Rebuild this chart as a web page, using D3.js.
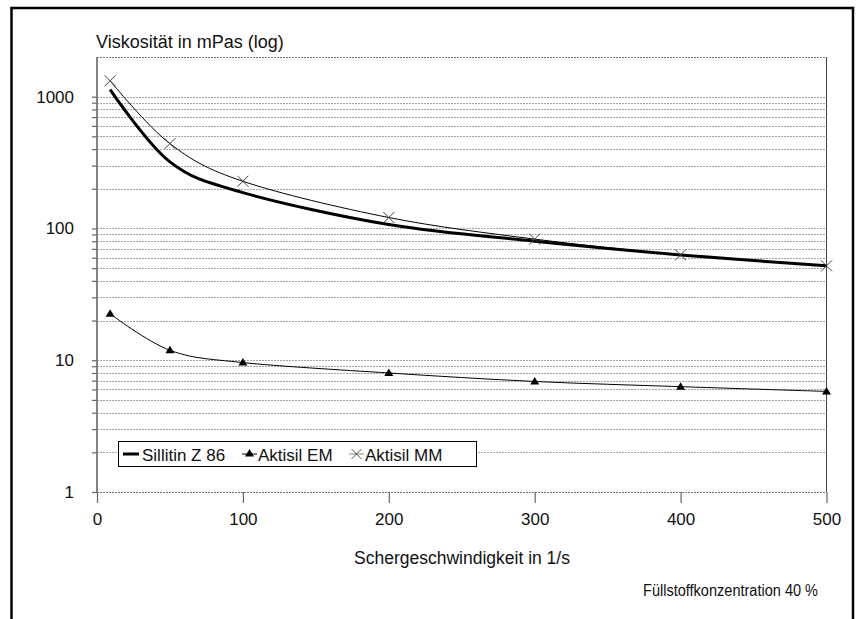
<!DOCTYPE html>
<html>
<head>
<meta charset="utf-8">
<script src="https://cdn.jsdelivr.net/npm/d3@7"></script>
<style>
  body { margin: 0; background: #fff; }
  svg { display: block; }
  text { font-family: "Liberation Sans", Arial, sans-serif; fill: #111; }
</style>
</head>
<body>
<script>
// shear rate (1/s) and viscosity (mPas)
var shearRates = [9, 50, 100, 200, 300, 400, 500];
var sillitin   = [1130, 320, 187, 107, 80, 63, 52];
var aktisilEM  = [22.5, 11.9, 9.6, 8.0, 6.9, 6.3, 5.8];
var aktisilMM  = [1320, 440, 228, 121, 83, 63, 52];

var xTicks = [0, 100, 200, 300, 400, 500];
var yLabels = [1, 10, 100, 1000];
var seriesNames = ["Sillitin Z 86", "Aktisil EM", "Aktisil MM"];

var svgWidth = 860, svgHeight = 619;
var plotLeft = 97, plotRight = 826.5, plotTop = 57, plotBottom = 492;

var svg = d3.select("body")
            .append("svg")
            .attr("width", svgWidth)
            .attr("height", svgHeight);

var x = d3.scaleLinear().domain([0, 500]).range([plotLeft, plotRight]);
var y = d3.scaleLog().domain([1, 2000]).range([plotBottom, plotTop]);

// grid values 1..9 per decade up to 2000
var gridVals = [];
[1, 10, 100, 1000].forEach(function(d) {
  d3.range(1, 10).forEach(function(m) {
    if (d * m <= 2000) gridVals.push(d * m);
  });
});
gridVals.push(2000);

// outer frame (open at the bottom)
svg.append("path")
   .attr("d", "M11.5,625V8H853V625")
   .attr("fill", "none")
   .attr("stroke", "#000")
   .attr("stroke-width", 2.5);

// horizontal gridlines
svg.append("g")
   .selectAll("line")
   .data(gridVals)
   .enter()
   .append("line")
   .attr("x1", plotLeft)
   .attr("x2", plotRight)
   .attr("y1", (d)=> Math.round(y(d)) + 0.5)
   .attr("y2", (d)=> Math.round(y(d)) + 0.5)
   .attr("stroke", (d)=> (d === 1 || d === 2000) ? "#777" : "#a4a4a4")
   .attr("stroke-dasharray", "2,1")
   .attr("stroke-width", 1);

// right border of plot area
svg.append("line")
   .attr("x1", plotRight).attr("x2", plotRight)
   .attr("y1", plotTop).attr("y2", plotBottom)
   .attr("stroke", "#444")
   .attr("stroke-width", 1);

// y axis
var yAxis = d3.axisLeft(y)
              .tickValues(gridVals.filter((d)=> d < 2000))
              .tickSize(5)
              .tickPadding(18)
              .tickFormat((d)=> yLabels.indexOf(d) >= 0 ? d : "");

var gy = svg.append("g")
   .attr("transform", "translate(" + plotLeft + ",0)")
   .call(yAxis);
gy.selectAll("text").attr("font-size", "17px").attr("font-family", "Liberation Sans, Arial");
gy.selectAll("line").attr("stroke", "#666").attr("stroke-width", 1.2);
gy.select(".domain").remove();

svg.append("line")
   .attr("x1", plotLeft).attr("x2", plotLeft)
   .attr("y1", plotTop).attr("y2", plotBottom + 0.5)
   .attr("stroke", "#777")
   .attr("stroke-width", 1.8);

// x axis
var xAxis = d3.axisBottom(x)
              .tickValues(xTicks)
              .tickSize(11)
              .tickPadding(10);

var gx = svg.append("g")
   .attr("transform", "translate(0," + plotBottom + ")")
   .call(xAxis);
gx.select(".domain").remove();
gx.selectAll("text").attr("font-size", "17px").attr("font-family", "Liberation Sans, Arial");
gx.selectAll("line").attr("stroke", "#666").attr("stroke-width", 1.2);

// curves
var line = d3.line()
             .x((d)=> x(d[0]))
             .y((d)=> y(d[1]))
             .curve(d3.curveCardinal.tension(0));

var zipped = (vals)=> shearRates.map((s, i)=> [s, vals[i]]);

svg.append("path")
   .attr("d", line(zipped(aktisilMM)))
   .attr("fill", "none")
   .attr("stroke", "#000")
   .attr("stroke-width", 1);

svg.append("path")
   .attr("d", line(zipped(aktisilEM)))
   .attr("fill", "none")
   .attr("stroke", "#000")
   .attr("stroke-width", 1);

svg.append("path")
   .attr("d", line(zipped(sillitin)))
   .attr("fill", "none")
   .attr("stroke", "#000")
   .attr("stroke-width", 3);

var triPath = "M0,-4.5L4.5,3L-4.5,3Z";
var crossPath = "M-5.5,-5.5L5.5,5.5M5.5,-5.5L-5.5,5.5";

svg.append("g")
   .selectAll("path")
   .data(zipped(aktisilEM))
   .enter()
   .append("path")
   .attr("d", triPath)
   .attr("transform", (d)=> "translate(" + x(d[0]) + "," + y(d[1]) + ")")
   .attr("fill", "#000");

svg.append("g")
   .selectAll("path")
   .data(zipped(aktisilMM))
   .enter()
   .append("path")
   .attr("d", crossPath)
   .attr("transform", (d)=> "translate(" + x(d[0]) + "," + y(d[1]) + ")")
   .attr("fill", "none")
   .attr("stroke", "#444")
   .attr("stroke-width", 1);

// legend
var legend = svg.append("g");
legend.append("rect")
      .attr("x", 118.5).attr("y", 441.5)
      .attr("width", 358).attr("height", 25)
      .attr("fill", "#fff")
      .attr("stroke", "#000")
      .attr("stroke-width", 1);

var legendX = [123, 242, 349];
var ly = 454;
legend.append("line").attr("x1", legendX[0]).attr("x2", legendX[0] + 16)
      .attr("y1", ly).attr("y2", ly).attr("stroke", "#000").attr("stroke-width", 3);
legend.append("line").attr("x1", legendX[1]).attr("x2", legendX[1] + 15)
      .attr("y1", ly).attr("y2", ly).attr("stroke", "#000").attr("stroke-width", 1);
legend.append("path").attr("d", triPath)
      .attr("transform", "translate(" + (legendX[1] + 7.5) + "," + (ly - 0.5) + ")");
legend.append("line").attr("x1", legendX[2]).attr("x2", legendX[2] + 15)
      .attr("y1", ly).attr("y2", ly).attr("stroke", "#888").attr("stroke-width", 1);
legend.append("path").attr("d", crossPath)
      .attr("transform", "translate(" + (legendX[2] + 7.5) + "," + ly + ") scale(0.9)")
      .attr("fill", "none").attr("stroke", "#444");

legend.selectAll("text")
      .data(seriesNames)
      .enter()
      .append("text")
      .attr("x", (d, i)=> [142, 258, 365][i])
      .attr("y", 461)
      .attr("font-size", "17px")
      .text((d)=> d);

// titles
svg.append("text")
   .attr("x", 96).attr("y", 48)
   .attr("font-size", "18px")
   .text("Viskosität in mPas (log)");

svg.append("text")
   .attr("x", 462).attr("y", 564)
   .attr("text-anchor", "middle")
   .attr("font-size", "17.5px")
   .text("Schergeschwindigkeit in 1/s");

svg.append("text")
   .attr("x", 643).attr("y", 596)
   .attr("font-size", "16px")
   .attr("textLength", 175)
   .attr("lengthAdjust", "spacingAndGlyphs")
   .text("Füllstoffkonzentration 40 %");
</script>
</body>
</html>
